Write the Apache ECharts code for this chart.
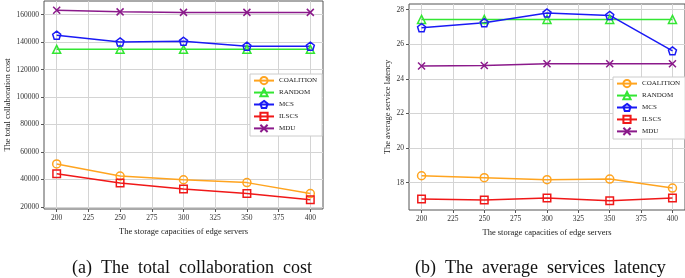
<!DOCTYPE html>
<html>
<head>
<meta charset="utf-8">
<script src="https://cdn.jsdelivr.net/npm/echarts@6/dist/echarts.min.js"></script>
<style>
  html, body { margin: 0; padding: 0; background: #fff; }
  #chart { width: 685px; height: 278px; }
</style>
</head>
<body>
<div id="chart"></div>
<script>
// x values (storage capacity)
const capacities = [200, 250, 300, 350, 400];
const xTicks = [200, 225, 250, 275, 300, 325, 350, 375, 400];
const names = ['COALITION', 'RANDOM', 'MCS', 'ILSCS', 'MDU'];

// (a) total collaboration cost
const costCoalition = [51300, 42500, 39800, 37700, 29700];
const costRandom = [134700, 134700, 134700, 134700, 134700];
const costMcs = [145000, 140100, 140600, 137000, 137000];
const costIlscs = [44200, 37400, 33100, 29700, 25300];
const costMdu = [163200, 162000, 161600, 161600, 161600];
const costTicks = [20000, 40000, 60000, 80000, 100000, 120000, 140000, 160000];

// (b) average service latency
const latCoalition = [18.40, 18.29, 18.17, 18.21, 17.69];
const latRandom = [27.44, 27.44, 27.44, 27.44, 27.44];
const latMcs = [26.96, 27.25, 27.81, 27.67, 25.62];
const latIlscs = [17.06, 17.00, 17.12, 16.96, 17.12];
const latMdu = [24.75, 24.77, 24.88, 24.88, 24.88];
const latTicks = [18, 20, 22, 24, 26, 28];

const colors = ['#FFA41F', '#33E633', '#1A1AF5', '#F01818', '#8B1A8B'];
const symbols = [
  'circle',
  'triangle',
  'path://M0,-1 L0.951,-0.309 L0.588,0.809 L-0.588,0.809 L-0.951,-0.309 Z',
  'rect',
  'path://M-1,-1 L1,1 M-1,1 L1,-1'
];
const sizes = [8, 8, 8, 7.5, 7];

const font = 'Liberation Serif';

function makeSeries(i, values, idx) {
  return {
    name: names[i],
    type: 'line',
    xAxisIndex: idx,
    yAxisIndex: idx,
    data: capacities.map((c, k) => [c, values[k]]),
    symbol: symbols[i],
    symbolSize: sizes[i],
    showAllSymbol: true,
    lineStyle: { color: colors[i], width: 1.5 },
    itemStyle: { color: 'rgba(0,0,0,0)', borderColor: colors[i], borderWidth: 1.5 },
    emphasis: { disabled: true },
    z: 3
  };
}

function xAxis(idx) {
  return {
    type: 'value', gridIndex: idx, min: 190, max: 410,
    name: 'The storage capacities of edge servers',
    nameLocation: 'middle', nameGap: 11,
    nameTextStyle: { fontFamily: font, fontSize: 8.5, color: '#222' },
    axisLine: { show: false },
    axisTick: { show: true, inside: false, length: 3, customValues: xTicks, lineStyle: { color: '#555' } },
    axisLabel: { customValues: xTicks, fontFamily: font, fontSize: 7.5, color: '#333', margin: 5 },
    splitLine: { show: true, lineStyle: { color: '#d4d4d4', width: 1 } }
  };
}

function yAxis(idx, min, max, ticks, name, gap) {
  return {
    type: 'value', gridIndex: idx, min: min, max: max,
    name: name, nameLocation: 'middle', nameGap: gap, nameRotate: 90,
    nameTextStyle: { fontFamily: font, fontSize: 8.5, color: '#222' },
    axisLine: { show: false },
    axisTick: { show: true, inside: false, length: 3, customValues: ticks, lineStyle: { color: '#555' } },
    axisLabel: {
      customValues: ticks, fontFamily: font, fontSize: 7.5, color: '#333', margin: 5,
      formatter: v => String(v)
    },
    splitLine: { show: true, lineStyle: { color: '#d4d4d4', width: 1 } }
  };
}

function legend(left, top) {
  return {
    data: names, orient: 'vertical', left: left, top: top,
    itemWidth: 20, itemHeight: 9, itemGap: 2.75, itemTextGap: 4,
    padding: [2, 5, 3, 3],
    backgroundColor: '#fff', borderColor: '#ccc', borderWidth: 1,
    textStyle: { fontFamily: font, fontSize: 7, color: '#222' },
    selectedMode: false
  };
}

const chart = echarts.init(document.getElementById('chart'), null, { renderer: 'canvas' });
chart.setOption({
  animation: false,
  backgroundColor: '#fff',
  grid: [
    { left: 44, top: 1, width: 279, height: 208, show: true, borderColor: '#555', borderWidth: 1, backgroundColor: 'transparent' },
    { left: 409, top: 4, width: 277, height: 206, show: true, borderColor: '#555', borderWidth: 1, backgroundColor: 'transparent' }
  ],
  xAxis: [xAxis(0), xAxis(1)],
  yAxis: [
    yAxis(0, 18500, 169900, costTicks, 'The total collaboration cost', 32),
    yAxis(1, 16.42, 28.33, latTicks, 'The average service latency', 17)
  ],
  legend: [legend(250, 74), legend(613, 77)],
  series: [
    makeSeries(0, costCoalition, 0), makeSeries(1, costRandom, 0), makeSeries(2, costMcs, 0),
    makeSeries(3, costIlscs, 0), makeSeries(4, costMdu, 0),
    makeSeries(0, latCoalition, 1), makeSeries(1, latRandom, 1), makeSeries(2, latMcs, 1),
    makeSeries(3, latIlscs, 1), makeSeries(4, latMdu, 1)
  ],
  graphic: [
    { type: 'text', left: 72, top: 259, style: { text: '(a)  The  total  collaboration  cost', font: '18px "Liberation Serif"', fill: '#111' } },
    { type: 'text', left: 415, top: 259, style: { text: '(b)  The  average  services  latency', font: '18px "Liberation Serif"', fill: '#111' } }
  ]
});
</script>
</body>
</html>
